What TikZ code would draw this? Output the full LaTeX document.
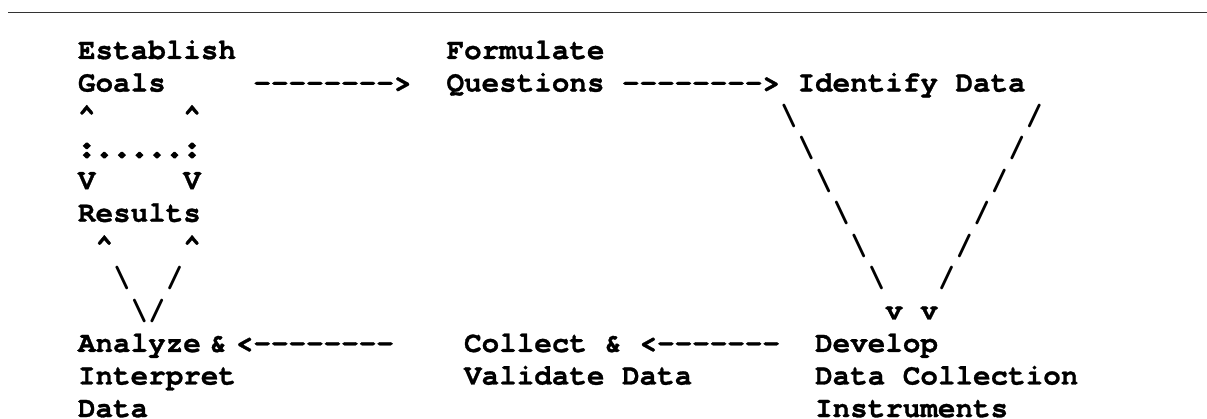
\documentclass[tikz,border=0pt]{standalone}
\usepackage{fontspec}
\setmonofont{texgyrecursor}[Extension=.otf, UprightFont=*-regular, BoldFont=*-bold, BoldFeatures={FakeBold=1}]
\newfontfamily\slashfont{texgyrecursor}[Extension=.otf, UprightFont=*-bold]
\newfontfamily\dotfont{texgyrecursor}[Extension=.otf, UprightFont=*-bold, FakeBold=9]
\definecolor{rulegray}{HTML}{333333}
% character grid of the text block (in pt)
\newcommand{\colw}{17.55}
\newcommand{\rowh}{32.55}
\newcommand{\tok}[5][tok]{\node[#1] (#2) at ({78+#3*\colw}, {-(59+(#4-1)*\rowh)}) {#5};}
\begin{document}
\begin{tikzpicture}[x=1pt, y=1pt,
  tok/.style={anchor=base west, inner sep=0pt, outer sep=0pt,
    font=\ttfamily\bfseries\fontsize{29.25}{32.55}\selectfont},
  stroke/.style={tok, font=\slashfont\fontsize{29.25}{32.55}\selectfont},
  dotrow/.style={tok, font=\dotfont\fontsize{29.25}{32.55}\selectfont}]
\useasboundingbox (0,0) rectangle (1207,-419);
% top rule
\coordinate (ruleL) at (8,-12.5);
\coordinate (ruleR) at (1207,-12.5);
\draw[rulegray, line width=1.8pt] (ruleL) -- (ruleR);
% line 1
\tok{establish}{0}{1}{Establish}
\tok{formulate}{21}{1}{Formulate}
% line 2
\tok{goals}{0}{2}{Goals}
\tok{arrA}{10}{2}{-------->}
\tok{questions}{21}{2}{Questions}
\tok{arrB}{31}{2}{-------->}
\tok{identify}{41}{2}{Identify Data}
% line 3
\tok{upA}{0}{3}{\textasciicircum}
\tok{upB}{6}{3}{\textasciicircum}
\tok[stroke]{bsA}{40}{3}{\textbackslash}
\tok[stroke]{slA}{54}{3}{/}
% line 4
\tok[dotrow]{dots}{0}{4}{:.....:}
\tok[stroke]{bsB}{41}{4}{\textbackslash}
\tok[stroke]{slB}{53}{4}{/}
% line 5
\tok{downA}{0}{5}{V}
\tok{downB}{6}{5}{V}
\tok[stroke]{bsC}{42}{5}{\textbackslash}
\tok[stroke]{slC}{52}{5}{/}
% line 6
\tok{results}{0}{6}{Results}
\tok[stroke]{bsD}{43}{6}{\textbackslash}
\tok[stroke]{slD}{51}{6}{/}
% line 7
\tok{upC}{1}{7}{\textasciicircum}
\tok{upD}{6}{7}{\textasciicircum}
\tok[stroke]{bsE}{44}{7}{\textbackslash}
\tok[stroke]{slE}{50}{7}{/}
% line 8
\tok[stroke]{bsL}{2}{8}{\textbackslash}
\tok[stroke]{slL}{5}{8}{/}
\tok[stroke]{bsF}{45}{8}{\textbackslash}
\tok[stroke]{slF}{49}{8}{/}
% line 9
\tok[stroke]{vee}{3}{9}{\textbackslash/}
\tok{vA}{46}{9}{v}
\tok{vB}{48}{9}{v}
% line 10
\tok{analyze}{0}{10}{Analyze}
\tok{ampA}{7.5}{10}{\&}
\tok{arrC}{9}{10}{<-{}-{}-{}-{}-{}-{}-{}-}
\tok{collect}{22}{10}{Collect}
\tok{ampB}{30}{10}{\&}
\tok{arrD}{32}{10}{<-{}-{}-{}-{}-{}-{}-}
\tok{develop}{42}{10}{Develop}
% line 11
\tok{interpret}{0}{11}{Interpret}
\tok{validate}{22}{11}{Validate Data}
\tok{datacoll}{42}{11}{Data Collection}
% line 12
\tok{data}{0}{12}{Data}
\tok{instruments}{42}{12}{Instruments}
\end{tikzpicture}
\end{document}
